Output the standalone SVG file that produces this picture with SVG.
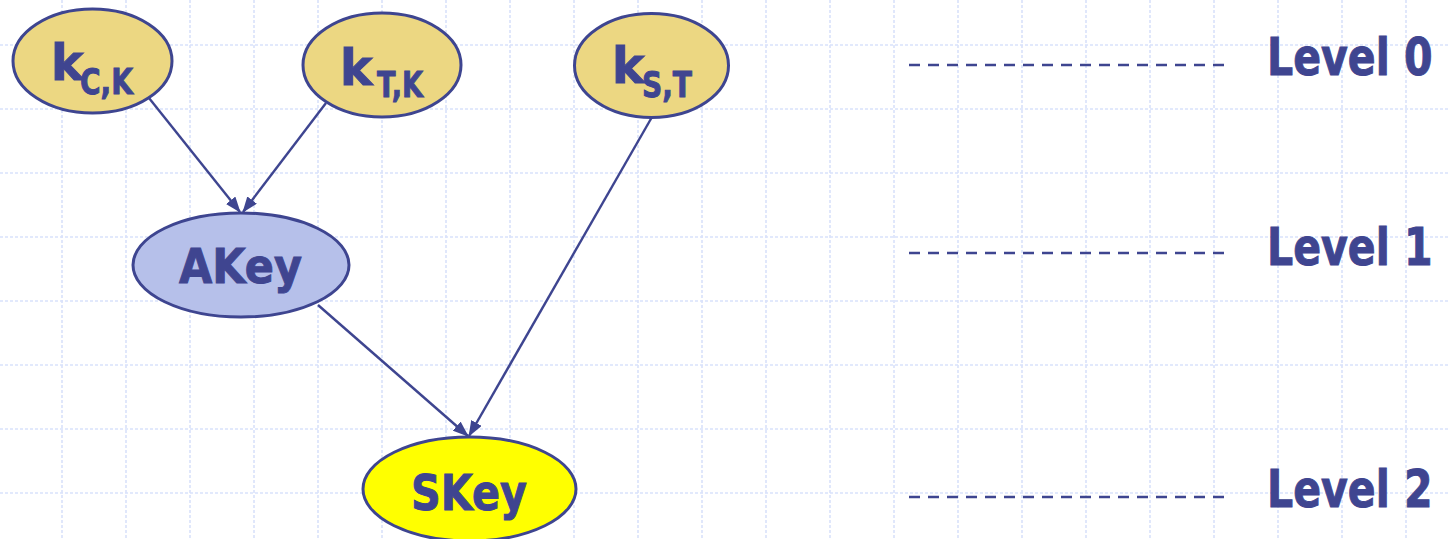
<svg xmlns="http://www.w3.org/2000/svg" width="1448" height="539" viewBox="0 0 1448 539">
  <style>
    .grid line { stroke: #d9e2fb; stroke-width: 1.6; stroke-dasharray: 3 2; }
    .node ellipse { stroke: #3e4590; stroke-width: 3; }
    .key { fill: #ecd782; }
    .akey { fill: #b6c0ea; }
    .skey { fill: #ffff00; }
    text { font-family: "DejaVu Sans", "Liberation Sans", sans-serif; font-weight: bold; fill: #3f4590; stroke: #3f4590; stroke-width: 1; }
    .lvl { font-size: 52px; }
    .edge { stroke: #3e4590; stroke-width: 2.4; fill: none; marker-end: url(#head); }
    .level { stroke: #3e4590; stroke-width: 2.5; stroke-dasharray: 11 8; }
  </style>
  <defs>
    <marker id="head" viewBox="0 0 16 12" refX="15" refY="6" markerWidth="16" markerHeight="12" markerUnits="userSpaceOnUse" orient="auto">
      <path d="M0,0 L16,6 L0,12 Z" fill="#3e4590"/>
    </marker>
  </defs>

  <rect width="1448" height="539" fill="#ffffff"/>

  <!-- background grid -->
  <g class="grid">
    <line x1="62" y1="0" x2="62" y2="539"/>
    <line x1="126" y1="0" x2="126" y2="539"/>
    <line x1="190" y1="0" x2="190" y2="539"/>
    <line x1="254" y1="0" x2="254" y2="539"/>
    <line x1="318" y1="0" x2="318" y2="539"/>
    <line x1="382" y1="0" x2="382" y2="539"/>
    <line x1="446" y1="0" x2="446" y2="539"/>
    <line x1="510" y1="0" x2="510" y2="539"/>
    <line x1="574" y1="0" x2="574" y2="539"/>
    <line x1="638" y1="0" x2="638" y2="539"/>
    <line x1="702" y1="0" x2="702" y2="539"/>
    <line x1="766" y1="0" x2="766" y2="539"/>
    <line x1="830" y1="0" x2="830" y2="539"/>
    <line x1="894" y1="0" x2="894" y2="539"/>
    <line x1="958" y1="0" x2="958" y2="539"/>
    <line x1="1022" y1="0" x2="1022" y2="539"/>
    <line x1="1086" y1="0" x2="1086" y2="539"/>
    <line x1="1150" y1="0" x2="1150" y2="539"/>
    <line x1="1214" y1="0" x2="1214" y2="539"/>
    <line x1="1278" y1="0" x2="1278" y2="539"/>
    <line x1="1342" y1="0" x2="1342" y2="539"/>
    <line x1="1406" y1="0" x2="1406" y2="539"/>
    <line x1="0" y1="45" x2="1448" y2="45"/>
    <line x1="0" y1="109" x2="1448" y2="109"/>
    <line x1="0" y1="173" x2="1448" y2="173"/>
    <line x1="0" y1="237" x2="1448" y2="237"/>
    <line x1="0" y1="301" x2="1448" y2="301"/>
    <line x1="0" y1="365" x2="1448" y2="365"/>
    <line x1="0" y1="429" x2="1448" y2="429"/>
    <line x1="0" y1="493" x2="1448" y2="493"/>
  </g>

  <!-- connectors -->
  <g id="connectors">
    <line class="edge" x1="149" y1="98" x2="240" y2="212"/>
    <line class="edge" x1="326" y1="103" x2="243" y2="212"/>
    <line class="edge" x1="318" y1="305" x2="468" y2="436"/>
    <line class="edge" x1="652" y1="117" x2="469" y2="436"/>
  </g>

  <!-- level markers: dashed guides with labels, labels narrowed horizontally -->
  <g id="levels">
    <line class="level" x1="909" y1="65" x2="1230" y2="65"/>
    <line class="level" x1="909" y1="253" x2="1230" y2="253"/>
    <line class="level" x1="909" y1="497" x2="1230" y2="497"/>
    <text class="lvl" transform="translate(1267,75) scale(0.79,1)">Level 0</text>
    <text class="lvl" transform="translate(1267,265) scale(0.79,1)">Level 1</text>
    <text class="lvl" transform="translate(1267,507) scale(0.79,1)">Level 2</text>
  </g>

  <g id="kCK" class="node">
    <ellipse class="key" cx="92.5" cy="61" rx="79.5" ry="52"/>
    <text x="51" y="80" font-size="49">k</text>
    <text x="80" y="94" font-size="36" textLength="53" lengthAdjust="spacingAndGlyphs">C,K</text>
  </g>

  <g id="kTK" class="node">
    <ellipse class="key" cx="382" cy="65" rx="79" ry="52"/>
    <text x="340" y="85" font-size="49">k</text>
    <text x="377" y="97" font-size="35" textLength="46" lengthAdjust="spacingAndGlyphs">T,K</text>
  </g>

  <g id="kST" class="node">
    <ellipse class="key" cx="651.5" cy="65.5" rx="77" ry="52"/>
    <text x="612" y="83" font-size="49">k</text>
    <text x="642" y="97" font-size="35" textLength="50" lengthAdjust="spacingAndGlyphs">S,T</text>
  </g>

  <g id="AKey" class="node">
    <ellipse class="akey" cx="241" cy="265" rx="108" ry="52"/>
    <text x="179" y="283" font-size="48" textLength="123" lengthAdjust="spacingAndGlyphs">AKey</text>
  </g>

  <g id="SKey" class="node">
    <ellipse class="skey" cx="469.5" cy="489" rx="106.5" ry="52"/>
    <text x="411" y="510" font-size="50" textLength="116" lengthAdjust="spacingAndGlyphs">SKey</text>
  </g>
</svg>
